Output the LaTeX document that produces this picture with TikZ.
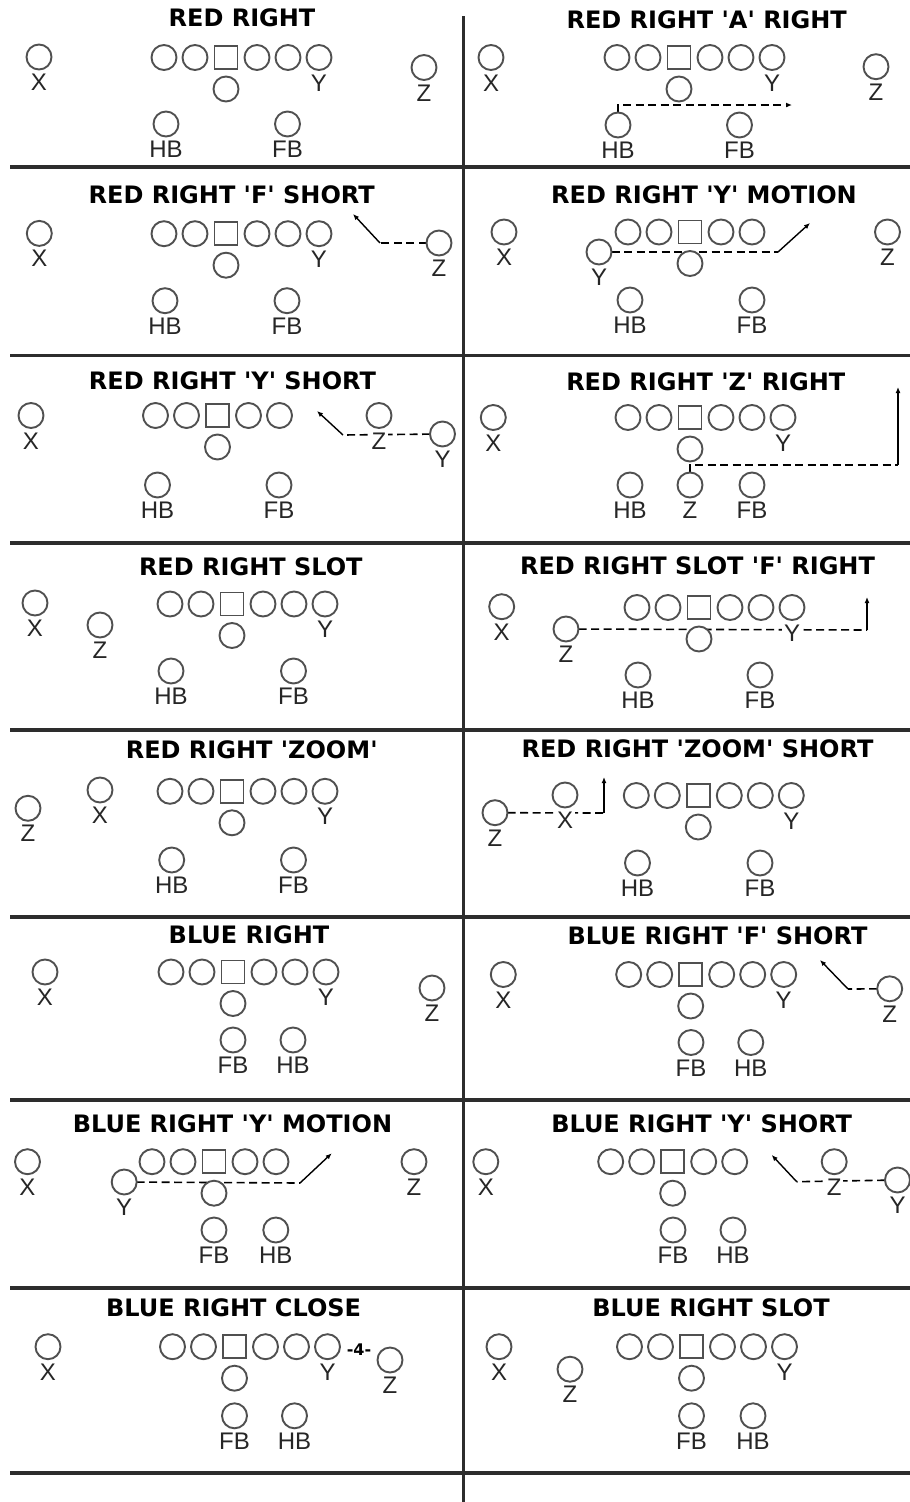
\documentclass[tikz,border=0pt]{standalone}
\usepackage{fontspec}
\setmainfont{Liberation Sans}
\newfontfamily\headfont{DejaVu Sans}[Ligatures=TeXOff]
\usepackage{tikz}
\usetikzlibrary{arrows.meta,positioning,backgrounds}
\definecolor{chalk}{RGB}{80,80,80}
\definecolor{fence}{RGB}{45,45,45}
\newcommand{\snapline}[3]{
  \node[ctr] (#1c) at (#2,#3) {};
  \node[man,left=7pt of #1c] (#1lg) {};
  \node[man,left=6pt of #1lg] (#1lt) {};
  \node[man,right=7pt of #1c] (#1rg) {};
  \node[man,right=6pt of #1rg] (#1rt) {};
  \node[man,below=7.5pt of #1c] (#1qb) {};
}
\newcommand{\tightend}[1]{
  \node[man,right=6pt of #1rt,label={[playname]below:Y}] (#1y) {};
}
\newcommand{\player}[4]{
  \node[man,label={[playname]below:#4}] (#1) at (#2,#3) {};
}
\tikzset{
  man/.style={circle,draw=chalk,line width=1.9pt,fill=white,minimum size=25pt,inner sep=0pt,outer sep=0pt},
  ctr/.style={rectangle,draw=chalk,line width=1.9pt,fill=white,minimum size=23pt,inner sep=0pt,outer sep=0pt},
  playname/.style={font=\fontsize{24}{24}\selectfont,text=black!85,fill=white,inner sep=1.8pt},
  headline/.style={font=\headfont\bfseries\fontsize{24}{24}\selectfont,inner sep=0pt},
  countmark/.style={font=\headfont\bfseries\fontsize{16}{16}\selectfont,inner sep=0pt},
  runline/.style={line width=1.6pt,dash pattern=on 8pt off 4.5pt},
  breakline/.style={line width=1.4pt,-{Latex[length=6pt,width=5pt]}},
  tipped/.style={-{Latex[length=6pt,width=5pt]}},
  fieldrule/.style={line width=3.5pt,draw=fence}
}

\begin{document}
\begin{tikzpicture}[x=1pt,y=-1pt,label distance=2.5pt]
  \useasboundingbox (0,0) rectangle (910,1502);
  \foreach \y in {167,355.5,543,730,917,1100,1288,1473}
    \draw[fieldrule] (10,\y) -- (910,\y);
  \draw[fieldrule,line width=3pt] (463,16) -- (463,1502);

  \node[headline] (rrhead) at (242,18) {RED RIGHT};
  \player{rrx}{39}{57}{X}
  \snapline{rr}{226}{57.5}
  \tightend{rr}
  \player{rrz}{424}{67.5}{Z}
  \player{rrhb}{166}{124}{HB}
  \player{rrfb}{287.5}{124}{FB}

  \node[headline] (rahead) at (706.7,20) {RED RIGHT 'A' RIGHT};
  \player{rax}{491}{57.5}{X}
  \snapline{ra}{679}{57.5}
  \tightend{ra}
  \player{raz}{876}{66.7}{Z}
  \player{rahb}{618}{125}{HB}
  \player{rafb}{739.5}{125}{FB}
  \coordinate (ratip) at (792,105);

  \node[headline] (rfhead) at (231.7,195) {RED RIGHT 'F' SHORT};
  \player{rfx}{39.3}{233.4}{X}
  \snapline{rf}{226}{233.7}
  \tightend{rf}
  \player{rfz}{439}{243}{Z}
  \player{rfhb}{165}{300.7}{HB}
  \player{rffb}{287}{300.7}{FB}
  \coordinate (rfbk) at (380,243);
  \coordinate (rftip) at (353,214);

  \node[headline] (ryhead) at (704,195) {RED RIGHT 'Y' MOTION};
  \player{ryx}{504}{232}{X}
  \snapline{ry}{690}{232}
  \player{ryy}{599}{252}{Y}
  \player{ryz}{887.5}{232}{Z}
  \player{ryhb}{630}{300}{HB}
  \player{ryfb}{752}{300}{FB}
  \coordinate (rybk) at (778,252);
  \coordinate (rytip) at (810,223);

  \node[headline] (rshead) at (232.5,380.7) {RED RIGHT 'Y' SHORT};
  \player{rsx}{31}{415.5}{X}
  \snapline{rs}{217.5}{415.5}
  \player{rsz}{379}{415.5}{Z}
  \player{rsy}{442.5}{434}{Y}
  \player{rshb}{157.5}{485}{HB}
  \player{rsfb}{279}{485}{FB}
  \coordinate (rsbk) at (343,435);
  \coordinate (rstip) at (317,411);

  \node[headline] (rzhead) at (705.8,381.7) {RED RIGHT 'Z' RIGHT};
  \player{rzx}{493.3}{417.5}{X}
  \snapline{rz}{690}{417.5}
  \tightend{rz}
  \player{rzz}{690}{485}{Z}
  \player{rzhb}{630}{485}{HB}
  \player{rzfb}{752}{485}{FB}
  \coordinate (rzbk) at (898,465);
  \coordinate (rztip) at (898,387);

  \node[headline] (slhead) at (250.8,566.4) {RED RIGHT SLOT};
  \player{slx}{35}{603}{X}
  \player{slz}{100}{625}{Z}
  \snapline{sl}{232}{604}
  \tightend{sl}
  \player{slhb}{171}{671}{HB}
  \player{slfb}{293.5}{671}{FB}

  \node[headline] (sfhead) at (697.5,565.8) {RED RIGHT SLOT 'F' RIGHT};
  \player{sfx}{501.7}{606.7}{X}
  \player{sfz}{566}{629}{Z}
  \snapline{sf}{699}{607.5}
  \tightend{sf}
  \player{sfhb}{638}{675}{HB}
  \player{sffb}{760}{675}{FB}
  \coordinate (sfbk) at (867,630);
  \coordinate (sftip) at (867,597);

  \node[headline] (zohead) at (251.7,750) {RED RIGHT 'ZOOM'};
  \player{zoz}{28}{808.3}{Z}
  \player{zox}{100}{790}{X}
  \snapline{zo}{232}{791.3}
  \tightend{zo}
  \player{zohb}{171.7}{860}{HB}
  \player{zofb}{293.5}{860}{FB}

  \node[headline] (zshead) at (697.5,749.2) {RED RIGHT 'ZOOM' SHORT};
  \player{zsz}{495}{812.7}{Z}
  \player{zsx}{565}{795}{X}
  \snapline{zs}{698.3}{795.5}
  \tightend{zs}
  \player{zshb}{637.5}{863}{HB}
  \player{zsfb}{760}{863}{FB}
  \coordinate (zsbk) at (604,813);
  \coordinate (zstip) at (604,777);

  \node[headline] (bbhead) at (249,935) {BLUE RIGHT};
  \player{bbx}{45}{972}{X}
  \snapline{bb}{233}{972}
  \tightend{bb}
  \player{bbz}{432}{988}{Z}
  \player{bbfb}{233}{1040}{FB}
  \player{bbhb}{293}{1040}{HB}

  \node[headline] (bfhead) at (717.5,935.8) {BLUE RIGHT 'F' SHORT};
  \player{bfx}{503.3}{974.5}{X}
  \snapline{bf}{690.7}{974.5}
  \tightend{bf}
  \player{bfz}{889.7}{988.8}{Z}
  \player{bffb}{691}{1042.5}{FB}
  \player{bfhb}{750.8}{1042.5}{HB}
  \coordinate (bfbk) at (848,989);
  \coordinate (bftip) at (820,960);

  \node[headline] (bmhead) at (232.5,1124.2) {BLUE RIGHT 'Y' MOTION};
  \player{bmx}{27.5}{1161.7}{X}
  \snapline{bm}{214}{1161.7}
  \player{bmy}{124.2}{1182}{Y}
  \player{bmz}{414}{1161.7}{Z}
  \player{bmfb}{214}{1230}{FB}
  \player{bmhb}{275.8}{1230}{HB}
  \coordinate (bmbk) at (300,1183);
  \coordinate (bmtip) at (331.7,1153.3);

  \node[headline] (bshead) at (701.7,1124.2) {BLUE RIGHT 'Y' SHORT};
  \player{bsx}{485.8}{1161.7}{X}
  \snapline{bs}{672.7}{1161.7}
  \player{bsz}{834.2}{1161.7}{Z}
  \player{bsy}{897.5}{1180}{Y}
  \player{bsfb}{673}{1230}{FB}
  \player{bshb}{733}{1230}{HB}
  \coordinate (bsbk) at (796.7,1181.7);
  \coordinate (bstip) at (771.7,1155);

  \node[headline] (bchead) at (233.6,1307.5) {BLUE RIGHT CLOSE};
  \player{bcx}{48}{1346.7}{X}
  \snapline{bc}{234.5}{1346.7}
  \tightend{bc}
  \player{bcz}{390}{1360}{Z}
  \node[countmark] (bcgap) at (359,1350) {-4-};
  \player{bcfb}{234.5}{1415.8}{FB}
  \player{bchb}{294.5}{1415.8}{HB}

  \node[headline] (sbhead) at (711,1307.5) {BLUE RIGHT SLOT};
  \player{sbx}{499}{1346.7}{X}
  \player{sbz}{570}{1369.2}{Z}
  \snapline{sb}{691.5}{1346.7}
  \tightend{sb}
  \player{sbfb}{691.5}{1415.8}{FB}
  \player{sbhb}{753}{1415.8}{HB}

  \begin{scope}[on background layer]
    \draw[runline,tipped] (rahb.north) |- (ratip);
    \draw[runline] (rfz) -- (rfbk);
    \draw[breakline] (rfbk) -- (rftip);
    \draw[runline] (ryy) -- (rybk);
    \draw[breakline] (rybk) -- (rytip);
    \draw[runline] (rsy) -- (rsbk);
    \draw[breakline] (rsbk) -- (rstip);
    \draw[runline] (rzz.north) |- (rzbk);
    \draw[breakline] (rzbk) -- (rztip);
    \draw[runline] (sfz) -- (sfbk);
    \draw[breakline] (sfbk) -- (sftip);
    \draw[runline] (zsz) -- (zsbk);
    \draw[breakline] (zsbk) -- (zstip);
    \draw[runline] (bfz) -- (bfbk);
    \draw[breakline] (bfbk) -- (bftip);
    \draw[runline] (bmy) -- (bmbk);
    \draw[breakline] (bmbk) -- (bmtip);
    \draw[runline] (bsy) -- (bsbk);
    \draw[breakline] (bsbk) -- (bstip);
  \end{scope}
\end{tikzpicture}
\end{document}
